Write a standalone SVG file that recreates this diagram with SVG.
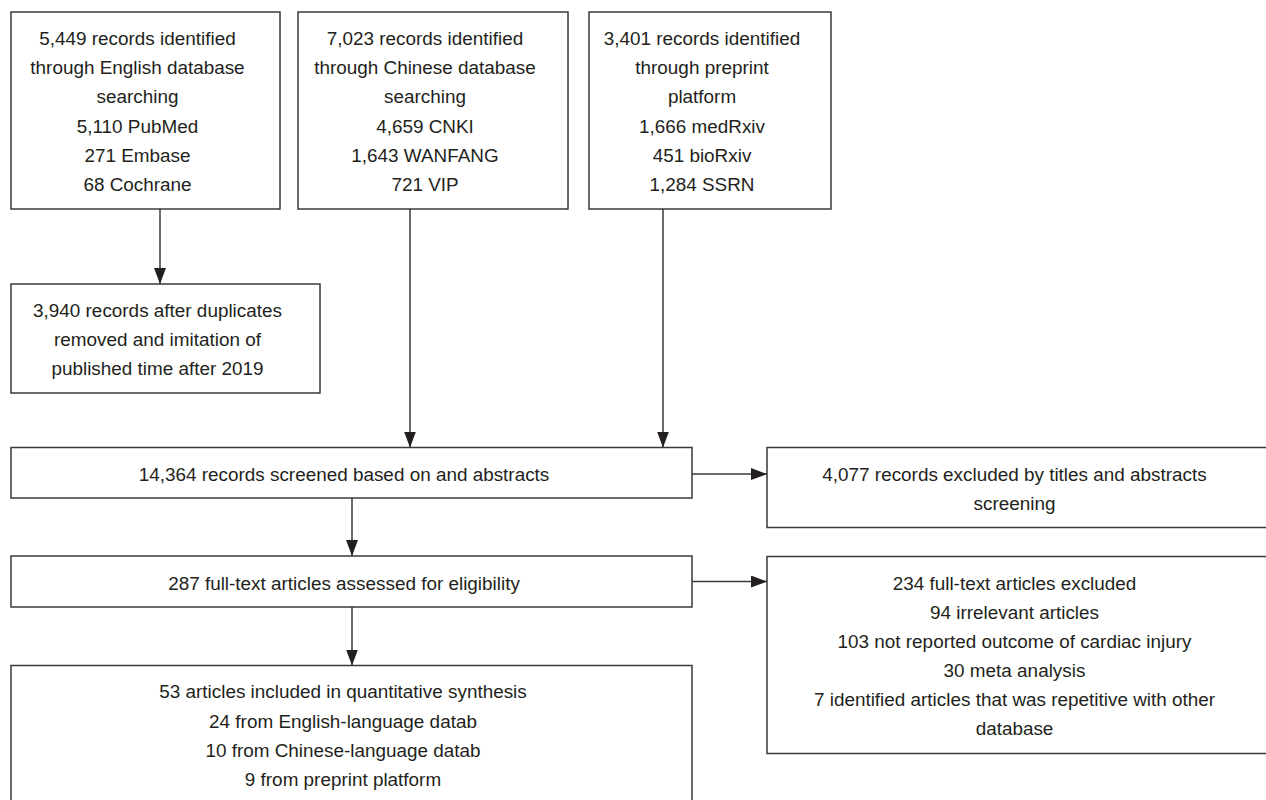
<svg xmlns="http://www.w3.org/2000/svg" width="1266" height="800" viewBox="0 0 1266 800">
<style>
.box{fill:#fff;stroke:#3a3a3a;stroke-width:1.5}
.t{font-family:"Liberation Sans",Arial,sans-serif;font-size:18.9px;fill:#231f20;text-anchor:middle}
.c{stroke:#3a3a3a;stroke-width:1.5;fill:none;marker-end:url(#ah)}
</style>
<defs>
<marker id="ah" markerUnits="userSpaceOnUse" markerWidth="16" markerHeight="12" refX="16" refY="6" orient="auto">
<path d="M0,0 L16,6 L0,12 z" fill="#231f20"/>
</marker>
</defs>
<rect width="1266" height="800" fill="#fff"/>
<g id="connectors">
<line class="c" x1="160" y1="209" x2="160" y2="284"/>
<line class="c" x1="410" y1="209" x2="410" y2="447.5"/>
<line class="c" x1="663" y1="209" x2="663" y2="447.5"/>
<line class="c" x1="352" y1="498" x2="352" y2="556"/>
<line class="c" x1="352" y1="607" x2="352" y2="665.5"/>
<line class="c" x1="692" y1="474" x2="767" y2="474"/>
<line class="c" x1="692" y1="581.5" x2="767" y2="581.5"/>
</g>
<g id="english">
<rect class="box" x="11" y="12" width="269" height="197"/>
<text class="t"><tspan x="137.5" y="44.5">5,449 records identified</tspan><tspan x="137.5" y="74">through English database</tspan><tspan x="137.5" y="103.3">searching</tspan><tspan x="137.5" y="132.6">5,110 PubMed</tspan><tspan x="137.5" y="162">271 Embase</tspan><tspan x="137.5" y="191.2">68 Cochrane</tspan></text>
</g>
<g id="chinese">
<rect class="box" x="298" y="12" width="270" height="197"/>
<text class="t"><tspan x="425" y="44.5">7,023 records identified</tspan><tspan x="425" y="74">through Chinese database</tspan><tspan x="425" y="103.3">searching</tspan><tspan x="425" y="132.6">4,659 CNKI</tspan><tspan x="425" y="162">1,643 WANFANG</tspan><tspan x="425" y="191.2">721 VIP</tspan></text>
</g>
<g id="preprint">
<rect class="box" x="589" y="12" width="242" height="197"/>
<text class="t"><tspan x="702" y="44.5">3,401 records identified</tspan><tspan x="702" y="74">through preprint</tspan><tspan x="702" y="103.3">platform</tspan><tspan x="702" y="132.6">1,666 medRxiv</tspan><tspan x="702" y="162">451 bioRxiv</tspan><tspan x="702" y="191.2">1,284 SSRN</tspan></text>
</g>
<g id="duplicates">
<rect class="box" x="11" y="284" width="309" height="109"/>
<text class="t"><tspan x="157.5" y="317">3,940 records after duplicates</tspan><tspan x="157.5" y="346">removed and imitation of</tspan><tspan x="157.5" y="375.3">published time after 2019</tspan></text>
</g>
<g id="screened">
<rect class="box" x="11" y="447.5" width="681" height="50.5"/>
<text class="t" x="344" y="481">14,364 records screened based on and abstracts</text>
</g>
<g id="excluded1">
<rect class="box" x="767" y="447.5" width="502" height="80"/>
<text class="t"><tspan x="1014.5" y="481">4,077 records excluded by titles and abstracts</tspan><tspan x="1014.5" y="510">screening</tspan></text>
</g>
<g id="fulltext">
<rect class="box" x="11" y="556" width="681" height="51"/>
<text class="t" x="344" y="589.5">287 full-text articles assessed for eligibility</text>
</g>
<g id="excluded2">
<rect class="box" x="767" y="556.5" width="502" height="197"/>
<text class="t"><tspan x="1014.5" y="589.5">234 full-text articles excluded</tspan><tspan x="1014.5" y="618.5">94 irrelevant articles</tspan><tspan x="1014.5" y="647.6">103 not reported outcome of cardiac injury</tspan><tspan x="1014.5" y="676.8">30 meta analysis</tspan><tspan x="1014.5" y="706">7 identified articles that was repetitive with other</tspan><tspan x="1014.5" y="735.2">database</tspan></text>
</g>
<g id="included">
<rect class="box" x="11" y="665.5" width="681" height="140"/>
<text class="t"><tspan x="343" y="698">53 articles included in quantitative synthesis</tspan><tspan x="343" y="727.5">24 from English-language datab</tspan><tspan x="343" y="757">10 from Chinese-language datab</tspan><tspan x="343" y="786">9 from preprint platform</tspan></text>
</g>
</svg>
